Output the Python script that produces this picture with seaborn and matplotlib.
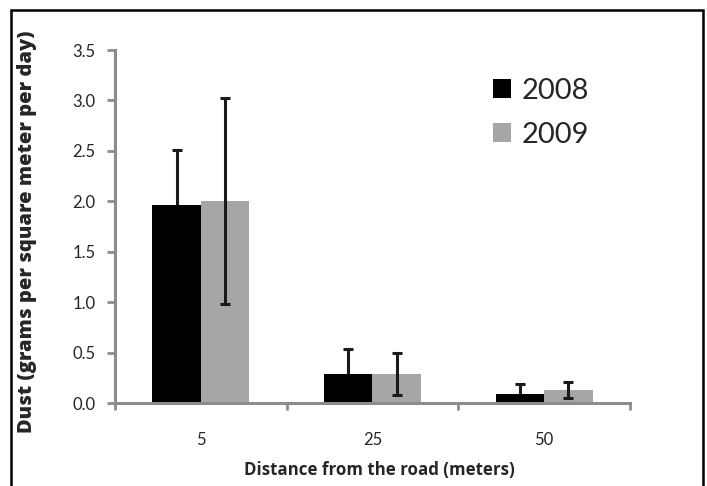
import matplotlib
matplotlib.use("Agg")
import matplotlib.pyplot as plt
from matplotlib.patches import Rectangle
import seaborn as sns
import pandas as pd
import numpy as np

# ---- data ----
distances = ["5", "25", "50"]
years = ["2008", "2009"]
dust_2008 = [1.96, 0.29, 0.09]
dust_2009 = [2.00, 0.29, 0.13]
err_2008 = [0.55, 0.25, 0.10]
err_2009 = [1.02, 0.21, 0.08]
y_ticks = [0.0, 0.5, 1.0, 1.5, 2.0, 2.5, 3.0, 3.5]

df = pd.DataFrame({
    "distance": distances * 2,
    "year": [years[0]] * 3 + [years[1]] * 3,
    "dust": dust_2008 + dust_2009,
})
errs = {years[0]: err_2008, years[1]: err_2009}

sns.set_style("white")
plt.rcParams["font.family"] = ["Lato", "DejaVu Sans"]

fig = plt.figure(figsize=(7.07, 4.86), dpi=100)
ax = fig.add_axes([115/707, 1-403/486, 515/707, 353/486])

palette = {years[0]: "#000000", years[1]: "#a6a6a6"}
sns.barplot(data=df, x="distance", y="dust", hue="year", order=distances,
            hue_order=years, palette=palette, width=0.565, gap=0,
            errorbar=None, linewidth=0, saturation=1, ax=ax, zorder=2)

# error bars from the bar positions
for cont, yr in zip(ax.containers, years):
    xs = [p.get_x() + p.get_width()/2 for p in cont.patches]
    hs = [p.get_height() for p in cont.patches]
    z = 1 if yr == years[0] else 5
    ax.errorbar(xs, hs, yerr=errs[yr], fmt="none", ecolor="#1a1a1a",
                elinewidth=2.2, capsize=3.5, capthick=2.2, zorder=z)

ax.set_xlim(-0.5, 2.5)
ax.set_ylim(0, 3.5)
ax.set_yticks(y_ticks)
ax.set_yticklabels([f"{v:.1f}" for v in y_ticks])
ax.set_xticks(range(len(distances)))
ax.set_xticklabels(distances)
ax.set_xticks([-0.5, 0.5, 1.5, 2.5], minor=True)

axis_col = "#8c8c8c"
for s in ["top", "right"]:
    ax.spines[s].set_visible(False)
for s in ["left", "bottom"]:
    ax.spines[s].set_color(axis_col)
    ax.spines[s].set_linewidth(2.2)
    ax.spines[s].set_zorder(6)

ax.tick_params(axis="y", which="major", direction="out", length=6, width=2,
               color=axis_col, labelsize=12, pad=8, left=True)
ax.tick_params(axis="x", which="major", length=0, labelsize=12, pad=21)
ax.tick_params(axis="x", which="minor", direction="out", length=5, width=2,
               color=axis_col, bottom=True)

ax.set_xlabel("")
ax.set_ylabel("")
fig.text(379/707, 1-470/486, "Distance from the road (meters)",
         ha="center", va="center", fontsize=12.2, fontweight="bold",
         family=["Open Sans", "DejaVu Sans"])
fig.text(27/707, 1-232/486, "Dust (grams per square meter per day)",
         ha="center", va="center", rotation=90, fontsize=14.5, fontweight=800,
         family=["Open Sans", "DejaVu Sans"])

# legend
handles, labels = ax.get_legend_handles_labels()
ax.legend(handles, labels, loc="upper left", bbox_to_anchor=(493/707, 1-78/486),
          bbox_transform=fig.transFigure, frameon=False, fontsize=21,
          handlelength=0.62, handleheight=0.62, handletextpad=0.35,
          labelspacing=0.62, borderpad=0, borderaxespad=0)

# figure border
fig.patches.append(Rectangle((11/707, -0.05), (703-11)/707, 1.05 - 10/486,
                             transform=fig.transFigure, fill=False,
                             edgecolor="black", linewidth=1.8, zorder=10))

fig.savefig("out.png", dpi=100)
